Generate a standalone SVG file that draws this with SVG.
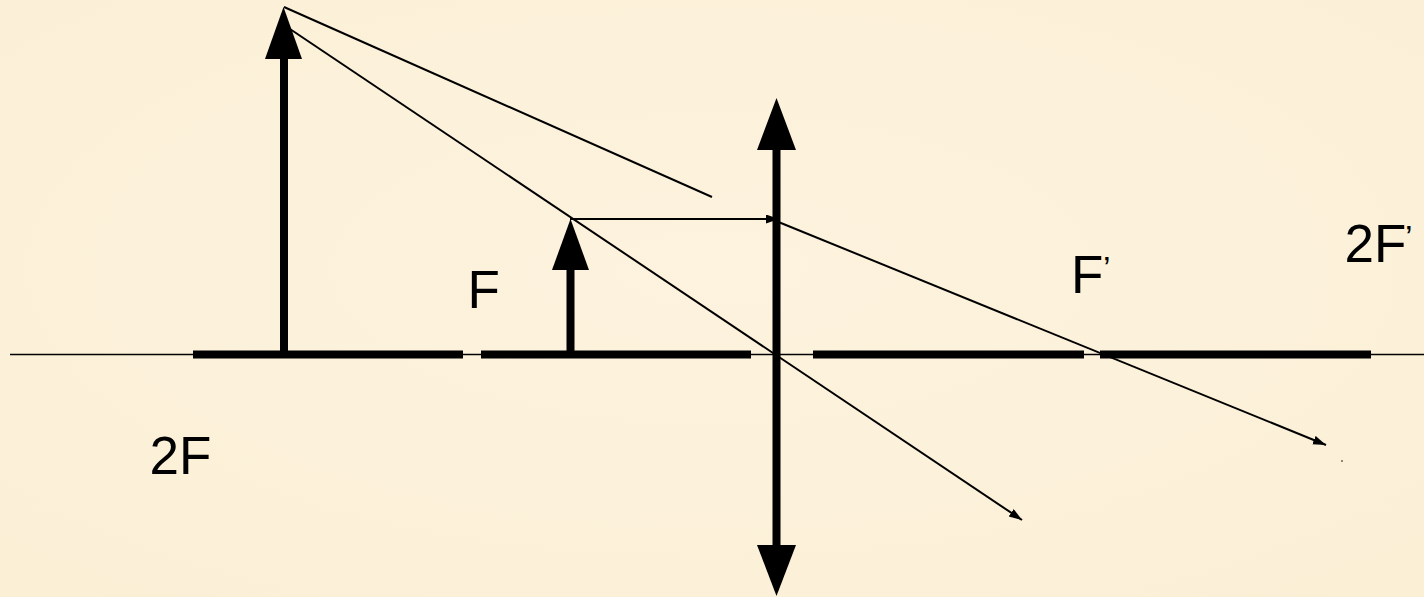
<svg xmlns="http://www.w3.org/2000/svg" width="1424" height="597" viewBox="0 0 1424 597">
<style>
.ray{stroke:#000;stroke-width:2;fill:none}
.bar{stroke:#000;stroke-width:8;stroke-linecap:butt}
.lbl{font-family:"Liberation Sans",Arial,sans-serif;font-size:53px;fill:#000}
.sup{font-family:"Liberation Sans",Arial,sans-serif;font-size:34px;fill:#000}
.solid{fill:#000}
</style>
<defs>
<radialGradient id="bg" cx="50%" cy="45%" r="70%">
<stop offset="0" stop-color="#fdf3de"/>
<stop offset="1" stop-color="#fbefd6"/>
</radialGradient>
<marker id="ah" markerUnits="userSpaceOnUse" markerWidth="14" markerHeight="10" refX="13" refY="4.5" orient="auto">
<path d="M0,0 L13,4.5 L0,9 z" fill="#000"/>
</marker>
</defs>
<rect width="1424" height="597" fill="url(#bg)"/>
<g id="axis">
<line x1="10" y1="354.5" x2="1424" y2="354.5" stroke="#000" stroke-width="1.5"/>
<line class="bar" x1="193" y1="354.5" x2="463" y2="354.5"/>
<line class="bar" x1="481" y1="354.5" x2="751" y2="354.5"/>
<line class="bar" x1="813" y1="354.5" x2="1084" y2="354.5"/>
<line class="bar" x1="1100" y1="354.5" x2="1371" y2="354.5"/>
</g>
<g id="connectors">
<line class="ray" x1="284" y1="7" x2="712" y2="197"/>
<line class="ray" x1="284" y1="25" x2="1022" y2="520" marker-end="url(#ah)"/>
<line class="ray" x1="570" y1="219" x2="779" y2="219" marker-end="url(#ah)"/>
<line class="ray" x1="776" y1="221" x2="1326" y2="445" marker-end="url(#ah)"/>
</g>
<g id="object-large">
<rect class="solid" x="280" y="55" width="8" height="300"/>
<polygon class="solid" points="283.5,7 265,59 302,59"/>
</g>
<g id="object-small">
<rect class="solid" x="566.5" y="266" width="8" height="89"/>
<polygon class="solid" points="570.5,219 552,270 589,270"/>
</g>
<g id="lens">
<rect class="solid" x="772.5" y="146" width="8" height="403"/>
<polygon class="solid" points="776.5,98 757,150 796,150"/>
<polygon class="solid" points="776.5,596 757,545 796,545"/>
</g>
<g id="label-2F"><text class="lbl" x="149.5" y="474">2F</text></g>
<g id="label-F"><text class="lbl" x="467.5" y="308">F</text></g>
<g id="label-F-prime"><text class="lbl" x="1071" y="293">F</text><text class="sup" x="1103" y="280">’</text></g>
<g id="label-2F-prime"><text class="lbl" x="1344.5" y="262">2F</text><text class="sup" x="1405" y="249">’</text></g>
<circle cx="1342" cy="461" r="0.8" fill="#000"/>
</svg>
